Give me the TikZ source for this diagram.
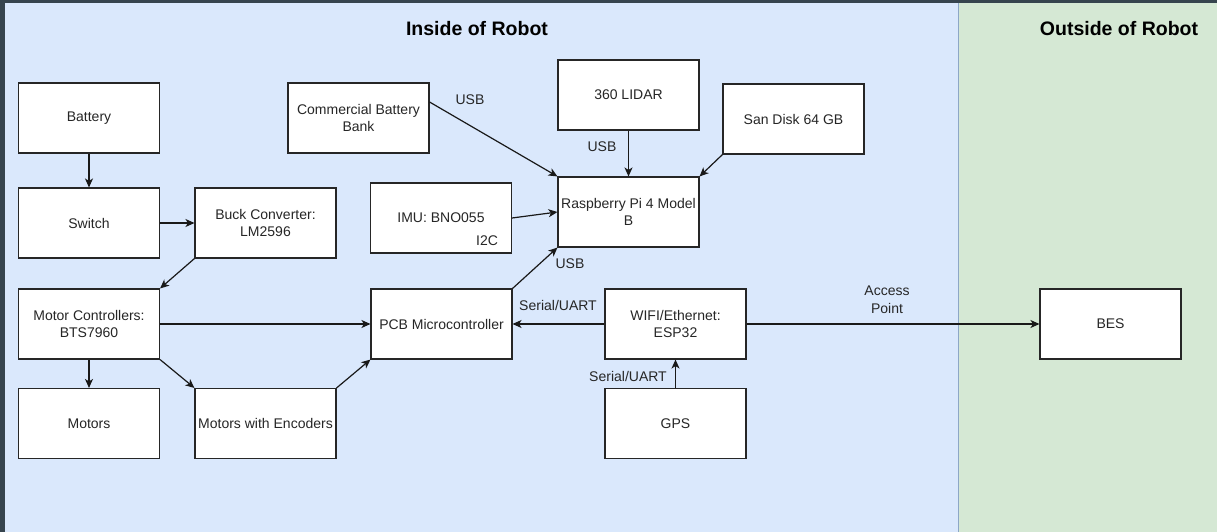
\documentclass[tikz,border=0pt]{standalone}
\usepackage{fontspec}
\setmainfont{Liberation Sans}
\usetikzlibrary{arrows.meta,calc}
\definecolor{frame_c}{HTML}{36444E}
\definecolor{inside_c}{HTML}{DAE8FC}
\definecolor{outside_c}{HTML}{D5E8D4}
\definecolor{split_c}{HTML}{8DA7C6}
\tikzset{
  x=1pt, y=-1pt,
  blk/.style = {draw=black!85, fill=white, line width=1.1pt, minimum width=141pt, minimum height=70pt,
    inner sep=1pt, align=center, text=black!85, font=\fontsize{14}{17.5}\selectfont},
  lbl/.style = {inner sep=0pt, align=center, text=black!85, font=\fontsize{14}{17.5}\selectfont},
  ttl/.style = {inner sep=0pt, font=\fontsize{19.5}{22}\selectfont\bfseries},
  conn/.style = {draw=black!90, line width=1.2pt, -{Stealth[length=9pt,width=8pt,inset=2.5pt]}}
}

\begin{document}
\begin{tikzpicture}
\useasboundingbox (0,0) rectangle (1217,532);
% panels
\fill[frame_c] (0,0) rectangle (1217,532);
\fill[inside_c] (5,3) rectangle (958,532);
\fill[outside_c] (958,3) rectangle (1217,532);
\draw[split_c, line width=1pt] (958,3) -- (958,532);
\node[ttl] (t_in) at (477,29) {Inside of Robot};
\node[ttl] (t_out) at (1119,29) {Outside of Robot};

% blocks
\node[blk] (bat) at (89,118) {Battery};
\node[blk] (sw) at (89,223) {Switch};
\node[blk] (mc) at (89,324) {Motor Controllers:\\BTS7960};
\node[blk] (mot) at (89,423.5) {Motors};
\node[blk] (buck) at (265.5,223) {Buck Converter:\\LM2596};
\node[blk] (mwe) at (265.5,423.5) {Motors with Encoders};
\node[blk] (cbb) at (358.5,118) {Commercial Battery\\Bank};
\node[blk] (imu) at (441,218) {IMU: BNO055};
\node[blk] (lidar) at (628.5,95) {360 LIDAR};
\node[blk] (sd) at (793.5,119) {San Disk 64 GB};
\node[blk] (rpi) at (628.5,212) {Raspberry Pi 4 Model\\B};
\node[blk] (pcb) at (441.5,324) {PCB Microcontroller};
\node[blk] (wifi) at (675.5,324) {WIFI/Ethernet:\\ESP32};
\node[blk] (gps) at (675.5,423.5) {GPS};
\node[blk] (bes) at (1110.5,324) {BES};

% connections
\draw[conn] (bat.south) -- (sw.north);
\draw[conn] (sw.east) -- (buck.west);
\draw[conn] (buck.south west) -- (mc.north east);
\draw[conn] (mc.east) -- (pcb.west);
\draw[conn] (mc.south) -- (mot.north);
\draw[conn] (mc.south east) -- (mwe.north west);
\draw[conn] (mwe.north east) -- (pcb.south west);
\draw[conn] (pcb.north east) -- (rpi.south west);
\draw[conn] (wifi.west) -- (pcb.east);
\draw[conn] (gps.north) -- (wifi.south);
\draw[conn] (wifi.east) -- (bes.west);
\draw[conn] (imu.east) -- (rpi.west);
\draw[conn] ([yshift=16pt]cbb.east) -- (rpi.north west);
\draw[conn] (lidar.south) -- (rpi.north);
\draw[conn] (sd.south west) -- (rpi.north east);

% edge labels
\node[lbl] (l_cbb) at (470,100) {USB};
\node[lbl] (l_lidar) at (602,147) {USB};
\node[lbl] (l_imu) at (487,241) {I2C};
\node[lbl] (l_pcb) at (570,264) {USB};
\node[lbl] (l_wifi) at (558,305) {Serial/UART};
\node[lbl] (l_gps) at (628,376) {Serial/UART};
\node[lbl] (l_ap) at (887,300) {Access\\Point};
\end{tikzpicture}
\end{document}
